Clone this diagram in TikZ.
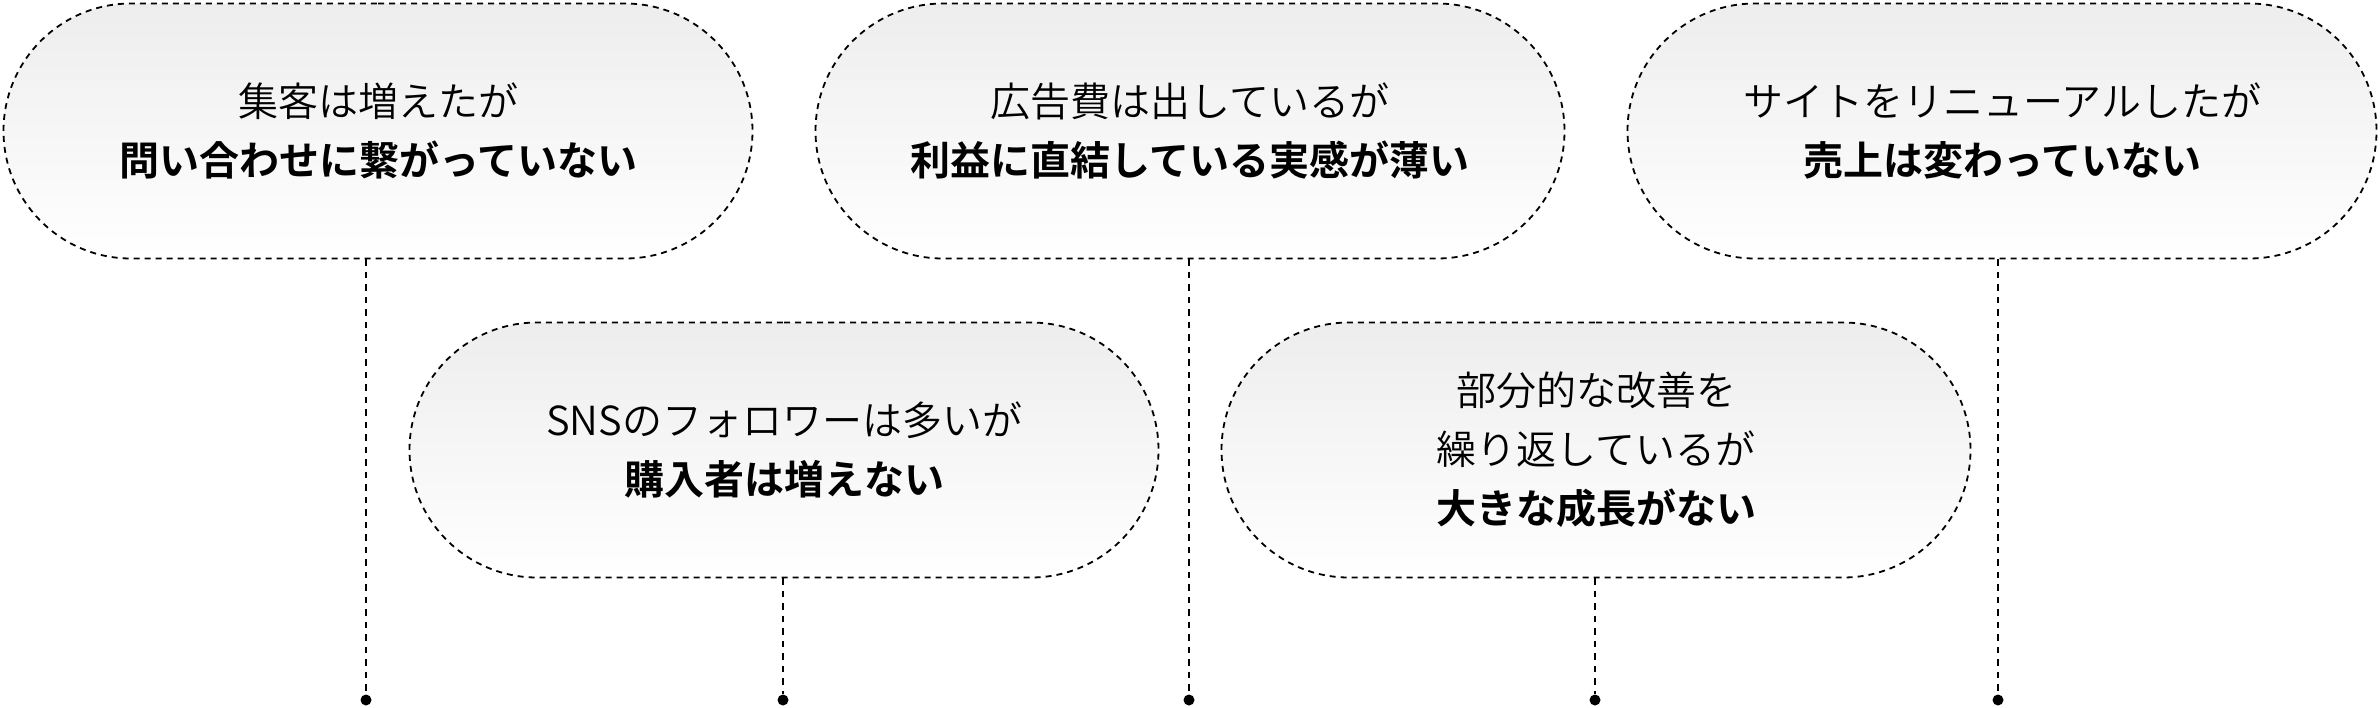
\documentclass[tikz,border=0pt]{standalone}
\usepackage{fontspec}
\setmainfont{Noto Sans CJK JP}[UprightFont={* DemiLight}, BoldFont={* Bold}]
\usetikzlibrary{shapes.misc}
\begin{document}
\begin{tikzpicture}[x=1pt,y=-1pt,
  pill/.style={rounded rectangle, minimum width=749pt, minimum height=255pt,
    draw=black, line width=1.8pt, dash pattern=on 6pt off 5pt,
    top color=black!7, middle color=white, bottom color=white,
    align=center, font=\fontsize{40}{59}\selectfont, text=black, inner sep=0pt},
  link/.style={line width=1.8pt, dash pattern=on 6.5pt off 6pt},
  dot/.style={circle, fill=black, minimum size=11pt, inner sep=0pt}]
\useasboundingbox (0,0) rectangle (2380,707);
\node[pill] (p1) at (378,131) {集客は増えたが\\\textbf{問い合わせに繋がっていない}};
\node[pill] (p2) at (1190,131) {広告費は出しているが\\\textbf{利益に直結している実感が薄い}};
\node[pill] (p3) at (2002,131) {サイトをリニューアルしたが\\\textbf{売上は変わっていない}};
\node[pill] (p4) at (784,450) {SNSのフォロワーは多いが\\\textbf{購入者は増えない}};
\node[pill] (p5) at (1596,450) {部分的な改善を\\繰り返しているが\\\textbf{大きな成長がない}};
\node[dot] (d1) at (366,700) {};
\node[dot] (d2) at (783,700) {};
\node[dot] (d3) at (1189,700) {};
\node[dot] (d4) at (1595,700) {};
\node[dot] (d5) at (1998,700) {};
\draw[link] (p1.south -| d1) -- (d1);
\draw[link] (p4.south -| d2) -- (d2);
\draw[link] (p2.south -| d3) -- (d3);
\draw[link] (p5.south -| d4) -- (d4);
\draw[link] (p3.south -| d5) -- (d5);
\end{tikzpicture}
\end{document}
